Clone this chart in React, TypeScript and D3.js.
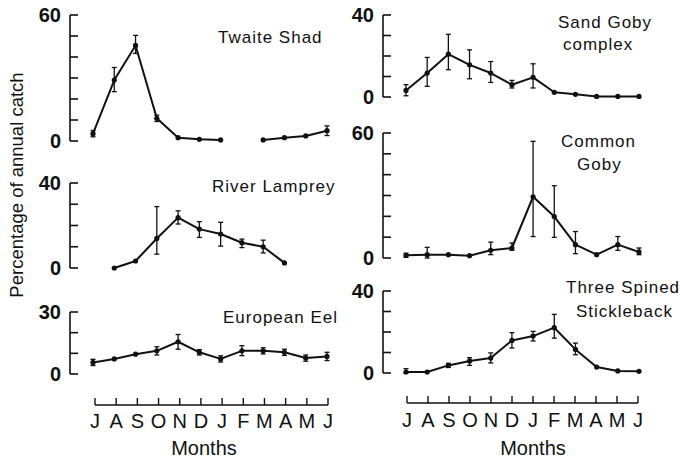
import React from "react";
import * as d3 from "d3";

const months = ["J", "A", "S", "O", "N", "D", "J", "F", "M", "A", "M", "J"];

type V = number | null;
type E = [number, number] | null;

// Twaite Shad
const twaiteShad: V[] = [3.5, 29, 45.5, 10.8, 1.6, 0.8, 0.5, null, 0.5, 1.6, 2.4, 4.9];
const twaiteShadErr: E[] = [[2, 5], [23.5, 35], [41.7, 50.3], [9.3, 12.3], null, null, null, null, null, null, null, [2.6, 7.2]];
const twaiteShadTicks = [0, 10, 20, 30, 40, 50, 60];

// River Lamprey
const riverLamprey: V[] = [null, 0, 3.3, 13.9, 23.7, 18.3, 16, 11.9, 10, 2.4, null, null];
const riverLampreyErr: E[] = [null, null, null, [6.5, 28.9], [20.7, 26.9], [14.4, 21.8], [10.3, 21.5], [9.6, 13.6], [7.1, 13.1], null, null, null];
const riverLampreyTicks = [0, 10, 20, 30, 40];

// European Eel
const europeanEel: V[] = [5.6, 7.3, 9.6, 11.2, 15.6, 10.5, 7.3, 11.2, 11.2, 10.5, 7.7, 8.5];
const europeanEelErr: E[] = [[4.1, 7.1], null, null, [9.2, 13.2], [12, 19.1], [9.2, 11.8], [5.8, 8.8], [8.9, 13.7], [9.7, 12.7], [9, 12], [6.2, 9.2], [6.5, 10.5]];
const europeanEelTicks = [0, 10, 20, 30];

// Sand Goby complex
const sandGoby: V[] = [3.2, 11.7, 20.9, 15.7, 11.7, 6, 9.6, 2.3, 1.3, 0.3, 0.3, 0.3];
const sandGobyErr: E[] = [[0.6, 6], [5.2, 19.3], [13.3, 30.6], [8.9, 23], [7.1, 17.3], [4.4, 8.1], [4.4, 16.2], null, null, null, null, null];
const sandGobyTicks = [0, 10, 20, 30, 40];

// Common Goby
const commonGoby: V[] = [1.3, 1.6, 1.6, 1.1, 3.7, 4.8, 29.4, 19.9, 6.4, 1.6, 6.4, 2.9];
const commonGobyErr: E[] = [[0.3, 2.3], [0, 5.1], null, null, [1.6, 7.6], [3.7, 7.2], [10.3, 56], [9.9, 34.7], [2.1, 12.7], null, [3.7, 10.3], [1.6, 4.8]];
const commonGobyTicks = [0, 10, 20, 30, 40, 50, 60];

// Three Spined Stickleback
const stickleback: V[] = [0.5, 0.5, 3.7, 5.9, 7.3, 15.9, 18, 22.1, 11.5, 2.9, 1, 0.8];
const sticklebackErr: E[] = [[0, 2.1], null, [2.7, 4.7], [3.7, 7.5], [4.9, 9.8], [12.2, 19.7], [15.6, 20.3], [17, 28.6], [8.9, 14.6], null, null, null];
const sticklebackTicks = [0, 10, 20, 30, 40];

const FONT = "'Liberation Sans', Arial, Helvetica, sans-serif";
const INK = "#111";

type PanelProps = {
  values: V[];
  errs: E[];
  ticks: number[];
  axisX: number;
  x0: number;
  x1: number;
  yTop: number;
  yBottom: number;
  title: { text: string; x: number; y: number }[];
};

function Panel({ values, errs, ticks, axisX, x0, x1, yTop, yBottom, title }: PanelProps) {
  const x = d3.scalePoint<number>().domain(d3.range(months.length)).range([x0, x1]);
  const yMax = d3.max(ticks) as number;
  const y = d3.scaleLinear().domain([0, yMax]).range([yBottom, yTop]);
  const line = d3
    .line<V>()
    .defined((d) => d != null)
    .x((_, i) => x(i) as number)
    .y((d) => y(d as number));
  const labelTicks = [0, yMax];
  return (
    <g>
      <line x1={axisX} x2={axisX} y1={y(0)} y2={y(yMax)} stroke={INK} strokeWidth={1.6} />
      {ticks.map((t) => (
        <line key={t} x1={axisX} x2={axisX + 8} y1={y(t)} y2={y(t)} stroke={INK} strokeWidth={1.6} />
      ))}
      {labelTicks.map((t) => (
        <text
          key={"l" + t}
          x={axisX - 9}
          y={y(t)}
          dy="0.36em"
          textAnchor="end"
          fontSize={20}
          fontFamily={FONT}
          fontWeight={600}
          fill={INK}
        >
          {t}
        </text>
      ))}
      <path d={line(values) || ""} fill="none" stroke={INK} strokeWidth={2} strokeLinejoin="round" />
      {errs.map((e, i) =>
        e ? (
          <g key={"e" + i} stroke={INK} strokeWidth={1.3}>
            <line x1={x(i)} x2={x(i)} y1={y(e[0])} y2={y(e[1])} />
            <line x1={(x(i) as number) - 2.5} x2={(x(i) as number) + 2.5} y1={y(e[0])} y2={y(e[0])} />
            <line x1={(x(i) as number) - 2.5} x2={(x(i) as number) + 2.5} y1={y(e[1])} y2={y(e[1])} />
          </g>
        ) : null
      )}
      {values.map((v, i) =>
        v == null ? null : <circle key={"p" + i} cx={x(i)} cy={y(v)} r={2.6} fill={INK} />
      )}
      {title.map((t, i) => (
        <text
          key={"t" + i}
          x={t.x}
          y={t.y}
          fontSize={17}
          letterSpacing={1}
          fontFamily={FONT}
          fill={INK}
        >
          {t.text}
        </text>
      ))}
    </g>
  );
}

function MonthAxis({ x0, x1, yAxis, labelY, titleX, titleY }: { x0: number; x1: number; yAxis: number; labelY: number; titleX: number; titleY: number }) {
  const x = d3.scalePoint<number>().domain(d3.range(months.length)).range([x0, x1]);
  return (
    <g>
      <line x1={x0} x2={x1} y1={yAxis} y2={yAxis} stroke={INK} strokeWidth={1.6} />
      {months.map((m, i) => (
        <g key={i}>
          <line x1={x(i)} x2={x(i)} y1={yAxis} y2={yAxis - 7} stroke={INK} strokeWidth={1.4} />
          <text x={x(i)} y={labelY} textAnchor="middle" fontSize={20} fontFamily={FONT} fill={INK}>
            {m}
          </text>
        </g>
      ))}
      <text x={titleX} y={titleY} textAnchor="middle" fontSize={20} fontFamily={FONT} fill={INK}>
        Months
      </text>
    </g>
  );
}

export default function App() {
  const L = { axisX: 70, x0: 93, x1: 327 };
  const R = { axisX: 383, x0: 406, x1: 639 };
  return (
    <svg
      width={683}
      height={459}
      viewBox="0 0 683 459"
      style={{ position: "absolute", left: 0, top: 0, background: "#fff" }}
    >
      <rect width={683} height={459} fill="#fff" />
      <text
        transform="translate(23,185) rotate(-90)"
        textAnchor="middle"
        fontSize={18.5}
        fontFamily={FONT}
        fill={INK}
      >
        Percentage of annual catch
      </text>
      <Panel
        values={twaiteShad}
        errs={twaiteShadErr}
        ticks={twaiteShadTicks}
        {...L}
        yTop={15}
        yBottom={141}
        title={[{ text: "Twaite Shad", x: 218, y: 43 }]}
      />
      <Panel
        values={riverLamprey}
        errs={riverLampreyErr}
        ticks={riverLampreyTicks}
        {...L}
        yTop={183}
        yBottom={268}
        title={[{ text: "River Lamprey", x: 212, y: 192 }]}
      />
      <Panel
        values={europeanEel}
        errs={europeanEelErr}
        ticks={europeanEelTicks}
        {...L}
        yTop={312}
        yBottom={374}
        title={[{ text: "European Eel", x: 223, y: 323 }]}
      />
      <Panel
        values={sandGoby}
        errs={sandGobyErr}
        ticks={sandGobyTicks}
        {...R}
        yTop={15}
        yBottom={97}
        title={[
          { text: "Sand Goby", x: 558, y: 28 },
          { text: "complex", x: 563, y: 50 },
        ]}
      />
      <Panel
        values={commonGoby}
        errs={commonGobyErr}
        ticks={commonGobyTicks}
        {...R}
        yTop={133}
        yBottom={258}
        title={[
          { text: "Common", x: 561, y: 147 },
          { text: "Goby", x: 577, y: 170 },
        ]}
      />
      <Panel
        values={stickleback}
        errs={sticklebackErr}
        ticks={sticklebackTicks}
        {...R}
        yTop={291}
        yBottom={373}
        title={[
          { text: "Three Spined", x: 566, y: 293 },
          { text: "Stickleback", x: 576, y: 317 },
        ]}
      />
      <MonthAxis x0={95} x1={328} yAxis={405} labelY={428} titleX={204} titleY={455} />
      <MonthAxis x0={407} x1={638} yAxis={403} labelY={427} titleX={533} titleY={455} />
    </svg>
  );
}
